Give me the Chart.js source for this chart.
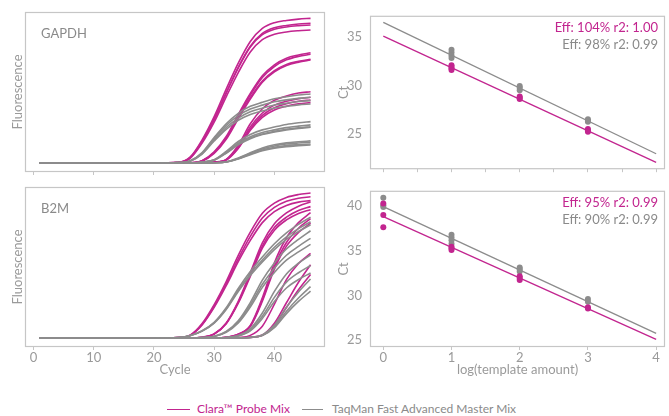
<!DOCTYPE html>
<html><head><meta charset="utf-8">
<script src="https://cdn.jsdelivr.net/npm/chart.js@4/dist/chart.umd.min.js"></script>
<style>
html,body{margin:0;padding:0;background:#fff;}
body{width:669px;height:416px;position:relative;overflow:hidden;font-family:Lato,"Open Sans",sans-serif;}
.c{position:absolute;}
.t{position:absolute;font-size:13px;line-height:16px;white-space:nowrap;}
.lt{position:absolute;font-size:12px;line-height:16px;white-space:nowrap;}
.lg{position:absolute;height:0;border-top:1.5px solid;}
</style></head><body>
<div class="c" style="left:0;top:0;width:335px;height:185px"><canvas id="c1"></canvas></div>
<div class="c" style="left:335px;top:0;width:334px;height:185px"><canvas id="c2"></canvas></div>
<div class="c" style="left:0;top:175px;width:335px;height:203px"><canvas id="c3"></canvas></div>
<div class="c" style="left:335px;top:175px;width:334px;height:203px"><canvas id="c4"></canvas></div>

<div class="t" style="left:41px;top:25px;color:#8a8a8a">GAPDH</div>
<div class="t" style="left:41px;top:200px;color:#8a8a8a">B2M</div>
<div class="t" style="right:11px;top:19px;color:#c2258f">Eff: 104% r2: 1.00</div>
<div class="t" style="right:11px;top:36px;color:#8a8a8a">Eff: 98% r2: 0.99</div>
<div class="t" style="right:11px;top:194px;color:#c2258f">Eff: 95% r2: 0.99</div>
<div class="t" style="right:11px;top:211px;color:#8a8a8a">Eff: 90% r2: 0.99</div>

<div class="lg" style="left:167px;top:409px;width:23px;border-color:#c2258f"></div>
<div class="lt" style="left:197px;top:401px;color:#c2258f">Clara™ Probe Mix</div>
<div class="lg" style="left:302px;top:409px;width:21px;border-color:#8c8c8c"></div>
<div class="lt" style="left:332px;top:401px;color:#8a8a8a">TaqMan Fast Advanced Master Mix</div>

<script>
// ---------- data ----------
const CYCLES = [1, 20, 24, 26, 28, 30, 32, 34, 36, 38, 40, 42, 44, 46];

const gapdhClara = [
  [0,0,0.4,3.8,15.3,30.7,48.9,66.1,80.5,89.1,92.9,94.4,95.3,95.8],
  [0,0,0.3,3.2,14.0,28.8,46.3,63.3,77.3,85.8,89.6,91.1,92.0,92.5],
  [0,0,0.4,3.6,14.5,29.0,46.4,63.0,76.8,85.0,88.6,90.1,90.9,91.4],
  [0,0,0.3,3.0,13.1,27.0,43.8,59.9,73.5,81.7,85.3,86.8,87.6,88.1],
  [0,0,0,0.1,1.5,7.3,17.5,32.1,46.0,57.7,65.0,69.4,71.5,73.0],
  [0,0,0,0.1,1.3,6.8,16.6,31.0,44.9,56.6,63.9,68.3,70.6,72.0],
  [0,0,0,0.1,1.4,6.9,16.5,30.2,43.3,54.3,61.1,65.3,67.3,68.7],
  [0,0,0,0.1,1.2,6.3,15.6,29.2,42.3,53.5,60.4,64.6,66.8,68.2],
  [0,0,0,0,0.1,0.5,2.4,11.8,26.0,35.9,41.5,44.4,46.3,47.2],
  [0,0,0,0,0.1,0.4,2.2,10.9,23.9,33.1,38.3,40.9,42.6,43.5],
  [0,0,0,0,0.1,0.4,2.0,10.0,22.5,31.5,36.6,39.2,40.9,41.7],
  [0,0,0,0,0.1,0.4,1.9,9.6,21.6,30.2,35.1,37.6,39.2,40.0]
];
const gapdhTaqMan = [
  [0,0,0.2,1.4,6.9,16.9,26.0,32.9,37.5,40.2,42.5,43.9,45.0,45.7],
  [0,0,0.2,1.3,6.5,16.1,24.8,31.3,35.7,38.3,40.5,41.8,42.8,43.5],
  [0,0,0.2,1.2,6.2,15.3,23.5,29.7,33.9,36.3,38.4,39.6,40.7,41.3],
  [0,0,0.2,1.2,5.9,14.5,22.3,28.2,32.1,34.4,36.4,37.5,38.5,39.1],
  [0,0,0,0.1,0.5,2.2,7.7,14.2,18.9,21.9,23.8,25.5,26.6,27.4],
  [0,0,0,0,0.5,2.0,7.1,13.1,17.4,20.2,21.9,23.4,24.4,25.2],
  [0,0,0,0,0.5,1.9,6.7,12.5,16.6,19.2,20.9,22.3,23.3,24.0],
  [0,0,0,0,0.4,1.8,6.4,12.0,16.1,18.8,20.5,21.9,22.9,23.6],
  [0,0,0,0,0,0.1,0.7,3.2,6.7,9.9,12.0,13.3,14.0,14.6],
  [0,0,0,0,0,0.1,0.7,3.0,6.3,9.3,11.2,12.5,13.2,13.7],
  [0,0,0,0,0,0.1,0.6,2.8,5.8,8.6,10.3,11.5,12.1,12.6],
  [0,0,0,0,0,0.1,0.6,2.6,5.5,8.1,9.8,10.8,11.4,11.9]
];
const b2mClara = [
  [0,0,0.3,1.9,9.6,22.1,37.4,54.7,70.1,82.6,89.3,93.1,95.0,96],
  [0,0,0.2,1.7,8.9,21.0,35.9,52.4,67.3,79.5,86.5,90.5,92.6,93.5],
  [0,0,0.2,1.6,8.6,20.2,34.6,50.5,64.6,76.4,83.7,87.8,90.0,91],
  [0,0,0,0,0.5,2.7,9.9,24.3,43.2,63.0,75.6,82.8,87.3,90],
  [0,0,0,0,0.4,2.6,9.6,23.5,41.8,60.9,73.1,80.0,84.4,87],
  [0,0,0,0,0.4,2.6,9.4,23.0,40.8,59.5,71.4,78.2,82.5,85],
  [0,0,0,0,0,0,0.4,2.5,8.3,26.6,49.8,66.4,76.4,83],
  [0,0,0,0,0,0,0.4,2.4,7.9,25.3,47.4,63.2,72.7,79],
  [0,0,0,0,0,0,0.4,2.3,7.6,24.3,45.6,60.8,69.9,76],
  [0,0,0,0,0,0,0,0.3,1.7,7.8,22.4,38.6,49.3,56],
  [0,0,0,0,0,0,0,0,0.5,1.9,9.7,23.3,36.9,48.5],
  [0,0,0,0,0,0,0,0,0.4,1.7,8.4,20.2,31.9,42]
];
const b2mTaqMan = [
  [0,0,0.2,1.6,4.8,10.4,20.0,32.8,44.0,53.6,62.4,69.6,75.2,80],
  [0,0,0.2,1.5,4.6,10.0,19.3,31.6,42.4,51.6,60.1,67.0,72.4,77],
  [0,0,0.2,1.5,4.5,9.8,18.8,30.8,41.3,50.3,58.5,65.3,70.5,75],
  [0,0,0,0,0.2,1.1,4.3,11.4,23.4,38.3,49.7,58.9,65.3,71],
  [0,0,0,0,0.2,1.0,4.0,10.6,21.8,35.6,46.2,54.8,60.7,66],
  [0,0,0,0,0.2,0.9,3.7,9.9,20.5,33.5,43.4,51.5,57.0,62],
  [0,0,0,0,0,0,0.3,1.7,6.1,16.5,30.8,42.4,49.5,55],
  [0,0,0,0,0,0,0.2,1.4,5.3,14.4,26.9,37.0,43.2,48],
  [0,0,0,0,0,0,0.2,1.3,4.7,12.9,24.1,33.1,38.7,43],
  [0,0,0,0,0,0,0,0,0.4,2.0,8.6,20.3,30.4,39],
  [0,0,0,0,0,0,0,0,0.3,1.7,7.5,17.7,26.5,34],
  [0,0,0,0,0,0,0,0,0.3,1.6,6.8,16.1,24.2,31]
];

// standard curves (log template amount vs Ct)
const gapdhClaraX  = [1,1,1,1,2,2,2,3,3,3];
const gapdhClaraCt = [32.1,31.9,31.75,31.6,28.85,28.7,28.6,25.5,25.35,25.2];
const gapdhTaqManX  = [1,1,1,1,2,2,2,3,3,3];
const gapdhTaqManCt = [33.7,33.4,33.1,32.85,29.95,29.75,29.5,26.5,26.35,26.25];
const b2mClaraX  = [0,0,0,1,1,1,2,2,2,3,3];
const b2mClaraCt = [40.3,39.0,37.65,35.45,35.3,35.1,32.15,31.95,31.75,28.7,28.55];
const b2mTaqManX  = [0,0,0,1,1,1,1,2,2,2,3,3];
const b2mTaqManCt = [40.95,40.1,39.9,36.8,36.5,36.2,35.8,33.15,32.95,32.7,29.6,29.3];

const FIT_X = [0, 4];
const gapdhClaraFit  = [35.1, 22.03];
const gapdhTaqManFit = [36.53, 22.93];
const b2mClaraFit    = [38.84, 25.1];
const b2mTaqManFit   = [39.95, 25.77];

// ticks
const CYCLE_TICKS = [0, 10, 20, 30, 40];
const LOG_TICKS_TOP = [0, 0.5, 1, 1.5, 2, 2.5, 3, 3.5, 4];
const LOG_TICKS = [0, 1, 2, 3, 4];
const GAPDH_CT_TICKS = [25, 30, 35];
const B2M_CT_TICKS = [25, 30, 35, 40];

// ---------- styling ----------
const MAG = '#c2258f';
const GRY = '#8c8c8c';
const AXT = '#9a9a9a';
const FONT = {family: 'Lato, "Open Sans", sans-serif', size: 13};

const boxPlugin = {
  id: 'box',
  afterDraw(c) {
    const a = c.chartArea, ctx = c.ctx;
    ctx.save();
    ctx.strokeStyle = '#c6c6c6';
    ctx.lineWidth = 1.2;
    ctx.strokeRect(a.left + 0.5, a.top + 0.5, a.right - a.left - 1, a.bottom - a.top - 1);
    ctx.restore();
  }
};

function curveSets(list, color) {
  return list.map(vals => ({
    data: CYCLES.map((c, i) => ({x: c, y: vals[i]})),
    borderColor: color, borderWidth: 1.6, pointRadius: 0,
    cubicInterpolationMode: 'monotone', fill: false
  }));
}
function pointSet(xs, ys, color) {
  return {type: 'scatter', data: xs.map((x, i) => ({x, y: ys[i]})),
    backgroundColor: color, borderColor: color, borderWidth: 0, pointRadius: 3, showLine: false};
}
function fitSet(ys, color) {
  return {data: FIT_X.map((x, i) => ({x, y: ys[i]})), borderColor: color,
    borderWidth: 1.3, pointRadius: 0, fill: false, tension: 0};
}

function makeChart(id, datasets, o) {
  return new Chart(document.getElementById(id), {
    type: 'line',
    data: {datasets},
    options: {
      responsive: true, maintainAspectRatio: false, animation: false, devicePixelRatio: 1,
      events: [],
      layout: {padding: {top: 12, right: o.padRight, left: 0, bottom: 0}},
      plugins: {legend: {display: false}, tooltip: {enabled: false}},
      scales: {
        x: {
          type: 'linear', min: o.xMin, max: o.xMax,
          afterBuildTicks: s => { s.ticks = o.xTicks.map(v => ({value: v})); },
          afterFit: s => { s.height = o.xH; },
          ticks: {display: o.xLabels, color: AXT, font: FONT, padding: 0, autoSkip: false, maxRotation: 0},
          grid: {display: true, drawOnChartArea: false, drawTicks: true, tickLength: 3, color: '#c6c6c6', lineWidth: 1},
          border: {display: false},
          title: {display: !!o.xTitle, text: o.xTitle || '', color: AXT, font: FONT, padding: {top: 0, bottom: 0}}
        },
        y: {
          type: 'linear', min: o.yMin, max: o.yMax,
          afterBuildTicks: s => { s.ticks = o.yTicks.map(v => ({value: v})); },
          afterFit: s => { s.width = o.yW; },
          ticks: {display: o.yLabels, color: AXT, font: FONT, padding: 8},
          grid: {display: false, drawTicks: false},
          border: {display: false},
          title: {display: true, text: o.yTitle, color: AXT, font: FONT, padding: {top: o.yTitlePad, bottom: 0}}
        }
      }
    },
    plugins: [boxPlugin]
  });
}

makeChart('c1', [...curveSets(gapdhTaqMan, GRY), ...curveSets(gapdhClara, MAG)], {
  padRight: 10, xMin: -1.4, xMax: 48.4, xTicks: CYCLE_TICKS, xLabels: false, xH: 13,
  yMin: -6, yMax: 100, yTicks: [], yLabels: false, yW: 25, yTitle: 'Fluorescence', yTitlePad: 10
});
makeChart('c3', [...curveSets(b2mTaqMan, GRY), ...curveSets(b2mClara, MAG)], {
  padRight: 10, xMin: -1.4, xMax: 48.4, xTicks: CYCLE_TICKS, xLabels: true, xH: 31, xTitle: 'Cycle',
  yMin: -6, yMax: 100, yTicks: [], yLabels: false, yW: 25, yTitle: 'Fluorescence', yTitlePad: 10
});
makeChart('c2', [
  pointSet(gapdhClaraX, gapdhClaraCt, MAG), pointSet(gapdhTaqManX, gapdhTaqManCt, GRY),
  fitSet(gapdhClaraFit, MAG), fitSet(gapdhTaqManFit, GRY)
], {
  padRight: 4, xMin: -0.195, xMax: 4.13, xTicks: LOG_TICKS_TOP, xLabels: false, xH: 13,
  yMin: 21.33, yMax: 37.21, yTicks: GAPDH_CT_TICKS, yLabels: true, yW: 35, yTitle: 'Ct', yTitlePad: 1
});
makeChart('c4', [
  pointSet(b2mClaraX, b2mClaraCt, MAG), pointSet(b2mTaqManX, b2mTaqManCt, GRY),
  fitSet(b2mClaraFit, MAG), fitSet(b2mTaqManFit, GRY)
], {
  padRight: 4, xMin: -0.195, xMax: 4.13, xTicks: LOG_TICKS, xLabels: true, xH: 31, xTitle: 'log(template amount)',
  yMin: 24.24, yMax: 41.72, yTicks: B2M_CT_TICKS, yLabels: true, yW: 35, yTitle: 'Ct', yTitlePad: 1
});
</script>
</body></html>
